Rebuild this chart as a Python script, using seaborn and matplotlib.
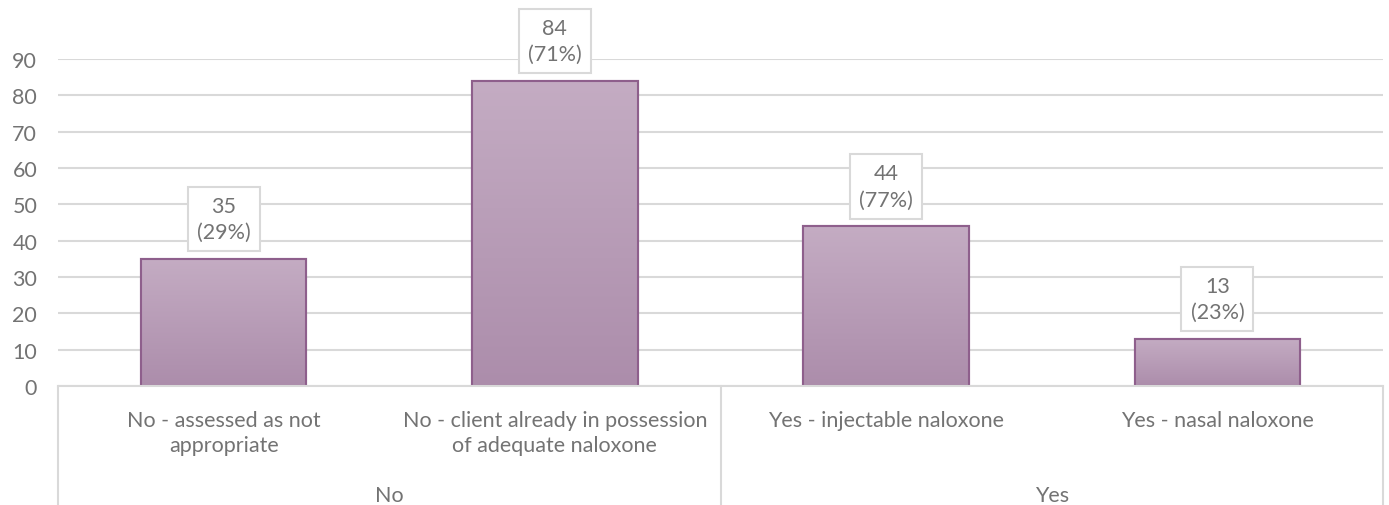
import numpy as np
import pandas as pd
import seaborn as sns
import matplotlib
matplotlib.use("Agg")
import matplotlib.pyplot as plt
import matplotlib.transforms as mtrans
from matplotlib.colors import LinearSegmentedColormap

# ---- data ----
categories = ["No - assessed as not\nappropriate",
              "No - client already in possession\nof adequate naloxone",
              "Yes - injectable naloxone",
              "Yes - nasal naloxone"]
groups = ["No", "Yes"]
group_of = ["No", "No", "Yes", "Yes"]
counts = [35, 84, 44, 13]
percents = [29, 71, 77, 23]
yticks = [0, 10, 20, 30, 40, 50, 60, 70, 80, 90]

sns.set_theme(style="white")
plt.rcParams["font.family"] = ["Lato", "DejaVu Sans"]

TXT = "#737373"
GRID = "#d9d9d9"
FS = 15.5

fig = plt.figure(figsize=(13.89, 5.06), dpi=100)
ax = fig.add_axes([58 / 1389, 119 / 506, (1383 - 58) / 1389, 327 / 506])

df = pd.DataFrame({"category": categories, "count": counts})
sns.barplot(data=df, x="category", y="count", color="#b89bb6", saturation=1,
            edgecolor="#8e5f8c", linewidth=1.5, width=0.5, ax=ax, zorder=2)

ax.set_ylim(0, 90)
ax.set_xlim(-0.5, len(categories) - 0.5)

# gradient fill clipped to bars
cmap = LinearSegmentedColormap.from_list("g", ["#ac8dab", "#c4acc3"])
grad = np.linspace(0, 1, 256).reshape(-1, 1)
for p in list(ax.patches):
    x0, y0 = p.get_x(), p.get_y()
    w, h = p.get_width(), p.get_height()
    im = ax.imshow(grad, cmap=cmap, origin="lower", aspect="auto",
                   extent=[x0, x0 + w, y0, y0 + h], zorder=2.1)
    im.set_clip_path(p)
    ax.add_patch(plt.Rectangle((x0, y0), w, h, fill=False,
                               edgecolor="#8e5f8c", linewidth=1.5, zorder=2.2))
ax.set_ylim(0, 90)
ax.set_xlim(-0.5, len(categories) - 0.5)

# grid / axes
ax.set_yticks(yticks)
ax.yaxis.grid(True, color=GRID, linewidth=1.5)
ax.set_axisbelow(True)
for s in ["top", "right", "left"]:
    ax.spines[s].set_visible(False)
ax.spines["bottom"].set_color(GRID)
ax.spines["bottom"].set_linewidth(1.5)
ax.tick_params(axis="y", length=0, pad=15, labelsize=FS, labelcolor=TXT)
ax.tick_params(axis="x", length=0, pad=17, labelsize=FS, labelcolor=TXT)
ax.set_xticks(range(len(categories)))
ax.set_xticklabels(categories, va="top", ha="center", linespacing=1.32)
ax.set_xlabel("")
ax.set_ylabel("")

# category box lines (multi-level axis)
tr = mtrans.blended_transform_factory(ax.transData, ax.transAxes)
bottom_y = -119 / 327
for xv in [-0.5, 1.5, len(categories) - 0.5]:
    ax.plot([xv, xv], [0, bottom_y], transform=tr, color=GRID, lw=1.5,
            clip_on=False, zorder=1)

# group labels
for g in groups:
    idx = [i for i, gg in enumerate(group_of) if gg == g]
    xc = (min(idx) + max(idx)) / 2
    ax.text(xc, -0.332, g, transform=tr, ha="center", va="center",
            fontsize=FS, color=TXT)

# data labels
for i, (c, pc) in enumerate(zip(counts, percents)):
    ax.annotate(f"{c}\n({pc}%)", xy=(i, c), xytext=(0, 12),
                textcoords="offset points", ha="center", va="bottom",
                fontsize=FS, color=TXT, linespacing=1.38, annotation_clip=False,
                bbox=dict(boxstyle="square,pad=0.42", fc="white", ec=GRID, lw=1.5),
                zorder=5)

fig.savefig("out.png", dpi=100)
